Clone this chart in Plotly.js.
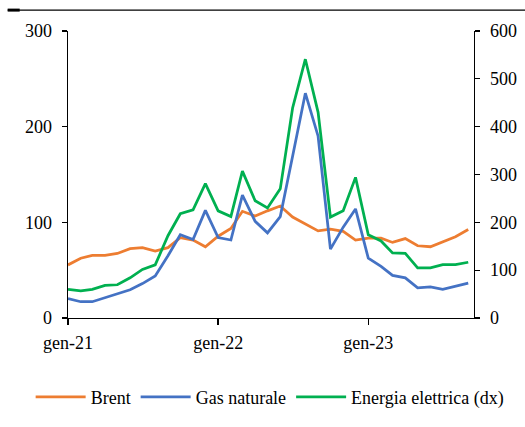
<!DOCTYPE html>
<html>
<head>
<meta charset="utf-8">
<script src="https://cdn.plot.ly/plotly-3.0.1.min.js"></script>
<style>
  html, body { margin: 0; padding: 0; background: #fff; }
  #chart { width: 525px; height: 427px; }
</style>
</head>
<body>
<div id="chart"></div>
<script>
// Monthly observations, Jan 2021 - Sep 2023
const months = [
  '2021-01','2021-02','2021-03','2021-04','2021-05','2021-06','2021-07','2021-08','2021-09','2021-10','2021-11','2021-12',
  '2022-01','2022-02','2022-03','2022-04','2022-05','2022-06','2022-07','2022-08','2022-09','2022-10','2022-11','2022-12',
  '2023-01','2023-02','2023-03','2023-04','2023-05','2023-06','2023-07','2023-08','2023-09'
];

// Left axis
const brent = [55.5, 62.5, 65.5, 65.5, 67.5, 72.5, 73.5, 70, 73.5, 84, 81.5, 74.5,
               85.5, 93.5, 111.5, 106.5, 112, 117, 105.5, 98, 91, 93, 90.5, 81.5,
               83.5, 83.5, 79, 83, 75.5, 74.5, 80, 85, 92.5];
const gasNaturale = [20.3, 17, 17, 21, 25, 29.5, 36, 44, 65, 87, 82, 112.5,
                     84, 81.5, 128.5, 101, 89, 106, 169, 235, 190, 72, 95, 114,
                     62.5, 54, 44.5, 42, 31.5, 32.5, 30, 33.5, 36.5];
// Right axis (dx)
const energiaElettrica = [60, 56.5, 60, 68, 69.5, 84, 101.5, 111, 172, 218, 226, 281,
                          224, 212, 307, 245, 230, 270, 439, 541, 430, 211, 224, 294,
                          174, 161, 136, 135, 105, 105, 111.5, 111.5, 116.5];

const seriesNames = ['Brent', 'Gas naturale', 'Energia elettrica (dx)'];
const xTickVals = ['2021-01-01', '2022-01-01', '2023-01-01'];
const xTickText = ['gen-21', 'gen-22', 'gen-23'];

const dates = months.map(m => m + '-01');
const FONT = '"Liberation Serif", "Times New Roman", serif';

const traces = [
  { x: dates, y: brent, name: seriesNames[0], type: 'scatter', mode: 'lines',
    line: { color: '#ED7D31', width: 2.75 } },
  { x: dates, y: gasNaturale, name: seriesNames[1], type: 'scatter', mode: 'lines',
    line: { color: '#4472C4', width: 2.75 } },
  { x: dates, y: energiaElettrica, name: seriesNames[2], type: 'scatter', mode: 'lines',
    yaxis: 'y2', line: { color: '#00B050', width: 2.75 } }
];

const axisCommon = {
  showline: true, linecolor: '#000', linewidth: 1.3,
  ticks: 'outside', tickcolor: '#000', tickwidth: 1.3,
  showgrid: false, zeroline: false,
  tickfont: { family: FONT, size: 18, color: '#000' }
};

const layout = {
  width: 525, height: 427,
  margin: { l: 68, r: 51, t: 31, b: 107 },
  paper_bgcolor: '#fff', plot_bgcolor: '#fff',
  font: { family: FONT, size: 18, color: '#000' },
  showlegend: true,
  legend: {
    orientation: 'h', x: -0.092, xanchor: 'left', y: -0.2756, yanchor: 'middle',
    itemwidth: 50, tracegroupgap: 0,
    font: { family: FONT, size: 18, color: '#000' }
  },
  xaxis: Object.assign({}, axisCommon, {
    type: 'date', range: ['2021-01-01', '2023-09-15'],
    tickmode: 'array', tickvals: xTickVals, ticktext: xTickText, ticklen: 6,
    ticklabelstandoff: 2
  }),
  yaxis: Object.assign({}, axisCommon, {
    range: [0, 300], dtick: 100, ticklen: 5, ticklabelstandoff: 6
  }),
  yaxis2: Object.assign({}, axisCommon, {
    overlaying: 'y', side: 'right', range: [0, 600], dtick: 100, ticklen: 5, ticklabelstandoff: 6
  }),
  shapes: [
    { type: 'line', xref: 'paper', yref: 'paper', x0: -0.1486, x1: 1.13, y0: 1.0728, y1: 1.0728,
      line: { color: '#000', width: 1.2 } },
    { type: 'line', xref: 'paper', yref: 'paper', x0: -0.1486, x1: -0.119, y0: 1.0728, y1: 1.0728,
      line: { color: '#000', width: 3 } }
  ]
};

Plotly.newPlot('chart', traces, layout, { displayModeBar: false, staticPlot: true });
</script>
</body>
</html>
